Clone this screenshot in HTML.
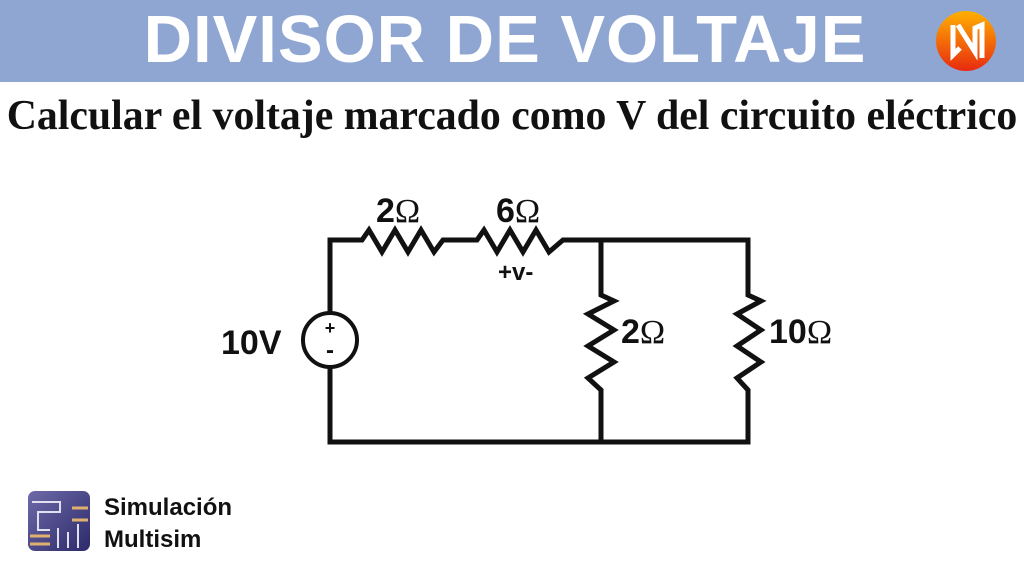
<!DOCTYPE html>
<html><head><meta charset="utf-8"><style>
body{margin:0;width:1024px;height:576px;background:#fff;overflow:hidden;position:relative;font-family:"Liberation Sans",sans-serif}
.bar{position:absolute;left:0;top:0;width:1024px;height:82px;background:#8fa6d2}
.t{position:absolute;left:0;width:1010px;top:1px;text-align:center;color:#fff;font-size:67px;font-weight:bold;letter-spacing:1px}
.s{position:absolute;left:0;width:1024px;top:92px;text-align:center;font-family:"Liberation Serif",serif;font-weight:bold;font-size:41.8px;color:#111;white-space:nowrap}
</style></head><body>
<div class="bar"></div>
<div class="t">DIVISOR DE VOLTAJE</div>
<div class="s">Calcular el voltaje marcado como V del circuito eléctrico</div>
<svg width="1024" height="576" style="position:absolute;left:0;top:0">
<defs><linearGradient id="g" x1="0" y1="0" x2="0" y2="1"><stop offset="0" stop-color="#ffb000"/><stop offset="1" stop-color="#e82a10"/></linearGradient>
<linearGradient id="b" x1="0" y1="0" x2="1" y2="1"><stop offset="0" stop-color="#6e6aa8"/><stop offset="1" stop-color="#2c2a6a"/></linearGradient></defs>
<circle cx="966" cy="41" r="30" fill="url(#g)"/>
<path d="M953 25 L953 55 L960 48 M958 25 L975 52 L975 28 L982 25 L982 58" stroke="#fff" stroke-width="5" fill="none"/>
<g stroke="#111" stroke-width="5" fill="none" stroke-linejoin="miter">
<path d="M330 312 V240 H362 L369 230 L382 252 L395 230 L408 252 L421 230 L434 252 L443 240 H477 L484 230 L497 252 L510 230 L523 252 L536 230 L549 252 L563 240 H748 V295 L761 301 L737 314 L761 330 L737 346 L761 362 L737 378 L748 390 V442 H330 V368"/>
<path d="M601 240 V295 L614 301 L588 314 L614 330 L588 346 L614 362 L588 378 L601 390 V442"/>
<circle cx="330" cy="340" r="27" stroke-width="4"/>
</g>
<g font-family="Liberation Sans,sans-serif" font-weight="bold" fill="#111">
<text x="330" y="334" font-size="18" text-anchor="middle">+</text>
<text x="330" y="358" font-size="24" text-anchor="middle">-</text>
<text x="221" y="354" font-size="34">10V</text>
<text x="376" y="222" font-size="34">2<tspan font-family="Liberation Serif,serif" font-weight="normal">Ω</tspan></text>
<text x="496" y="222" font-size="34">6<tspan font-family="Liberation Serif,serif" font-weight="normal">Ω</tspan></text>
<text x="498" y="280" font-size="24">+v-</text>
<text x="621" y="343" font-size="34">2<tspan font-family="Liberation Serif,serif" font-weight="normal">Ω</tspan></text>
<text x="769" y="343" font-size="34">10<tspan font-family="Liberation Serif,serif" font-weight="normal">Ω</tspan></text>
</g>
<rect x="28" y="491" width="62" height="60" rx="7" fill="url(#b)"/>
<g stroke="#e0e0f0" stroke-width="2" fill="none"><path d="M32 502 H60 V512 H38 V530 H50"/><path d="M58 528 V548 M68 532 V548 M78 524 V548"/></g>
<g stroke="#e0b070" stroke-width="3"><path d="M72 508 H88 M72 520 H88 M30 536 H50 M30 544 H50"/></g>
<g font-family="Liberation Sans,sans-serif" font-weight="bold" font-size="24" fill="#111">
<text x="104" y="515">Simulación</text><text x="104" y="547">Multisim</text></g>
</svg>
</body></html>
